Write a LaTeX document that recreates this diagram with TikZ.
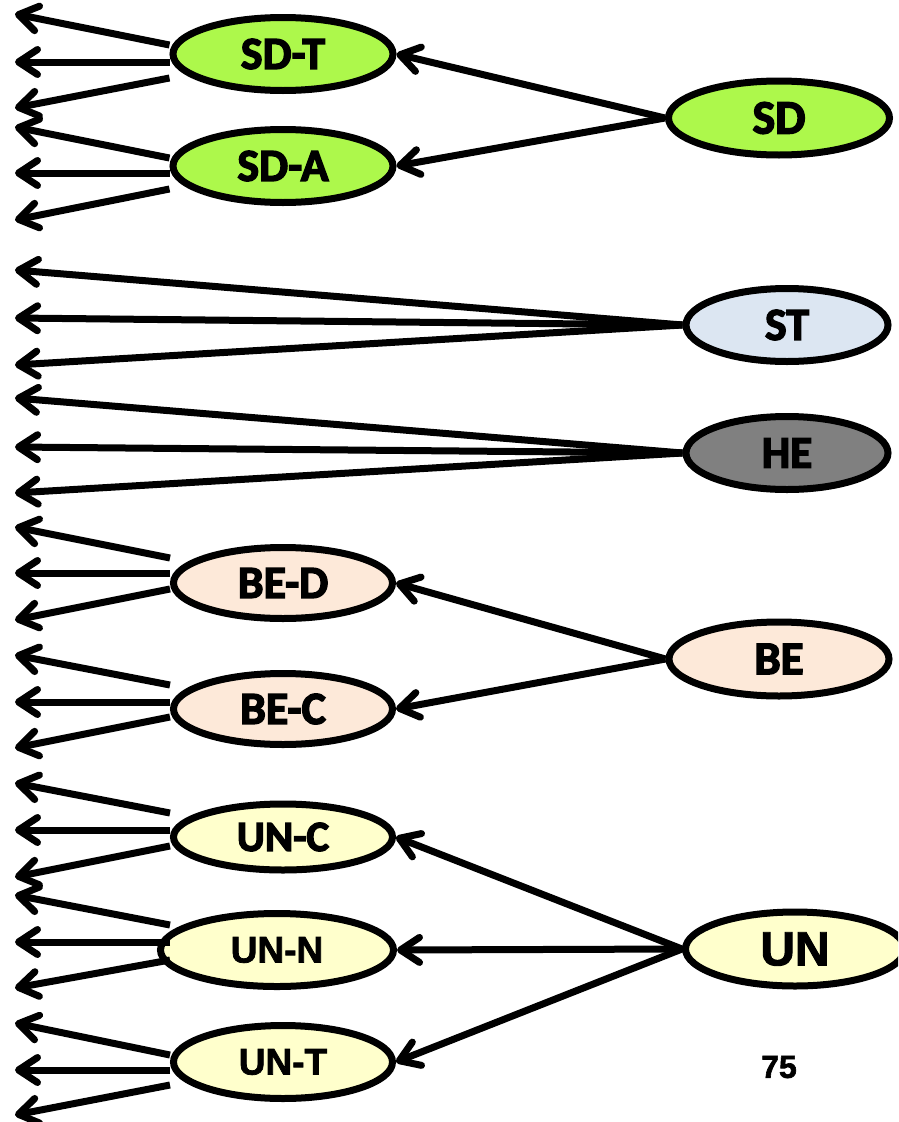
\documentclass[tikz,border=0pt]{standalone}
\usepackage{fontspec}
\newfontfamily\cfont{Carlito}[BoldFeatures={FakeBold=3}]
\newfontfamily\afont{Liberation Sans}[BoldFeatures={FakeBold=2}]
\usetikzlibrary{arrows.meta,shapes.geometric,calc}
\definecolor{sdgreen}{HTML}{ADF84B}
\definecolor{stblue}{HTML}{DCE6F2}
\definecolor{hegray}{HTML}{808080}
\definecolor{bepeach}{HTML}{FDE9D9}
\definecolor{unyellow}{HTML}{FFFFCC}
% #1 node, #2 x offset, #3 top start y, #4 top end y, #5 mid y, #6 bottom start y, #7 bottom end y
\newcommand\fanleft[7]{%
  \coordinate (#1-t) at (15,#4);
  \coordinate (#1-m) at (15,#5);
  \coordinate (#1-b) at (15,#7);
  \draw[arr] ($(#1.west |- 0,#3)+(#2,0)$) -- (#1-t);
  \draw[arr] ($(#1.west |- 0,#5)+(#2,0)$) -- (#1-m);
  \draw[arr] ($(#1.west |- 0,#6)+(#2,0)$) -- (#1-b);
}
\begin{document}
\begin{tikzpicture}[x=1pt,y=-1pt,
  ell/.style={ellipse, draw=black, line width=7pt, inner sep=0pt},
  arr/.style={line width=7pt, -{Straight Barb[length=19pt,width=25pt,round]}},
  cl/.style={font=\cfont\bfseries\fontsize{#1}{#1}\selectfont},
  al/.style={font=\afont\bfseries\fontsize{#1}{#1}\selectfont},
]
\useasboundingbox (0,0) rectangle (898,1122);
\clip (0,0) rectangle (898,1122);

% left column nodes
\node[ell, fill=sdgreen, minimum width=220pt, minimum height=73pt, cl=46] (SDT) at (283,54) {SD-T};
\node[ell, fill=sdgreen, minimum width=220pt, minimum height=73pt, cl=46] (SDA) at (283,166) {SD-A};
\node[ell, fill=bepeach, minimum width=219pt, minimum height=71pt, cl=46] (BED) at (283,583) {BE-D};
\node[ell, fill=bepeach, minimum width=219pt, minimum height=71pt, cl=46] (BEC) at (283,709) {BE-C};
\node[ell, fill=unyellow, minimum width=219pt, minimum height=66pt, cl=43] (UNC) at (283,837) {UN-C};
\node[ell, fill=unyellow, minimum width=233pt, minimum height=73pt, al=37] (UNN) at (277,950) {UN-N};
\node[ell, fill=unyellow, minimum width=219pt, minimum height=73pt, al=37] (UNT) at (283,1062) {UN-T};

% right column nodes
\node[ell, fill=sdgreen, minimum width=221pt, minimum height=74pt, cl=48] (SD) at (779,118) {SD};
\node[ell, fill=stblue, minimum width=202pt, minimum height=73pt, cl=46] (ST) at (787,325) {ST};
\node[ell, fill=hegray, minimum width=202pt, minimum height=73pt, cl=45] (HE) at (787,453) {HE};
\node[ell, fill=bepeach, minimum width=220pt, minimum height=74pt, cl=47] (BE) at (779,659) {BE};
\node[ell, fill=unyellow, minimum width=219pt, minimum height=74pt, al=48] (UN) at (795,949) {UN};

\node[al=32] (pg) at (779,1067) {75};

% right-to-left connectors
\draw[arr] (SD.west) -- (SDT.east);
\draw[arr] (SD.west) -- (SDA.east);
\draw[arr] (BE.west) -- (BED.east);
\draw[arr] (BE.west) -- (BEC.east);
\draw[arr] (UN.west) -- (UNC.east);
\draw[arr] (UN.west) -- (UNN.east);
\draw[arr] (UN.west) -- (UNT.east);

% ST and HE fans
\coordinate (ST-t) at (15,270);
\coordinate (ST-m) at (15,318);
\coordinate (ST-b) at (15,365);
\coordinate (HE-t) at (15,398);
\coordinate (HE-m) at (15,447);
\coordinate (HE-b) at (15,493);
\draw[arr] (ST.west) -- (ST-t);
\draw[arr] (ST.west) -- (ST-m);
\draw[arr] (ST.west) -- (ST-b);
\draw[arr] (HE.west) -- (HE-t);
\draw[arr] (HE.west) -- (HE-m);
\draw[arr] (HE.west) -- (HE-b);

% left fans
\fanleft{SDT}{0}{45}{14}{62}{78}{108}
\fanleft{SDA}{0}{158}{127}{173}{189}{220}
\fanleft{BED}{0}{558}{527}{573}{589}{620}
\fanleft{BEC}{0}{685}{655}{702}{717}{748}
\fanleft{UNC}{0}{813}{783}{830}{846}{877}
\fanleft{UNN}{13}{925}{895}{942}{960}{988}
\fanleft{UNT}{0}{1055}{1023}{1070}{1085}{1115}
\end{tikzpicture}
\end{document}
